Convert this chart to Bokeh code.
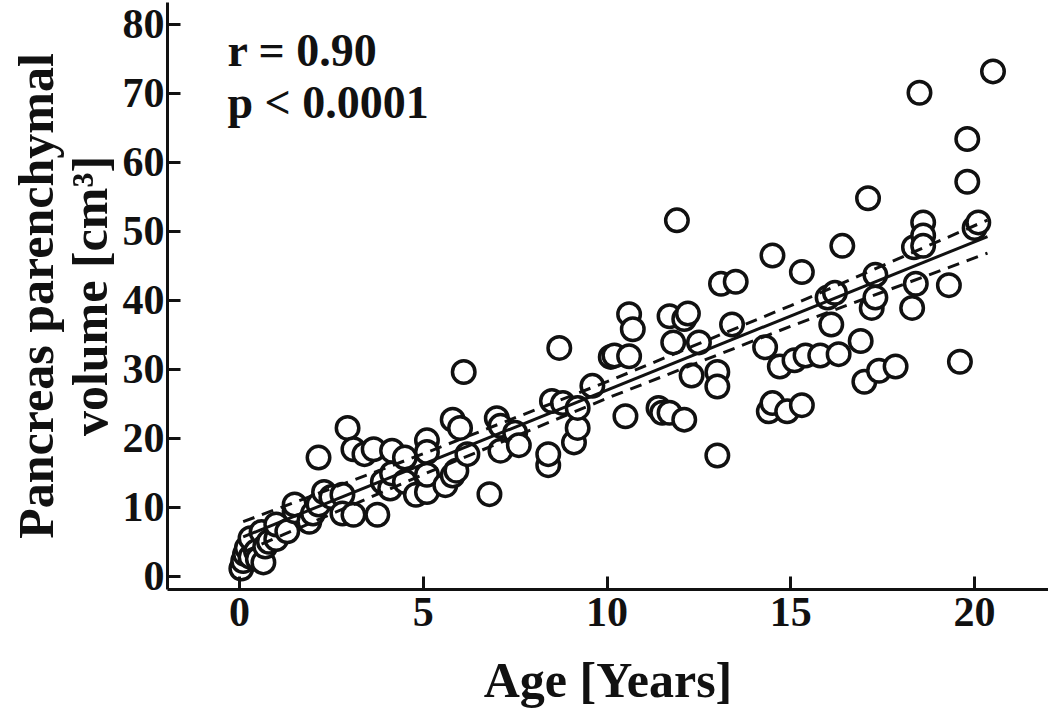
from bokeh.plotting import figure
from bokeh.models import FixedTicker, Label, Range1d
from bokeh.embed import file_html
from bokeh.resources import INLINE

# ---- data ----
age = [0.05, 0.1, 0.15, 0.2, 0.3, 0.3, 0.45, 0.5, 0.6, 0.65, 0.7, 0.8, 1.0, 1.0, 1.3,
       1.5, 1.5, 1.9, 2.0, 2.15, 2.15, 2.3, 2.5, 2.8, 2.8, 2.94, 3.1, 3.1, 3.4, 3.65,
       3.75, 3.9, 4.1, 4.15, 4.15, 4.5, 4.5, 4.8, 5.1, 5.1, 5.1, 5.1, 5.6, 5.8, 5.8,
       6.0, 5.9, 6.1, 6.2, 6.8, 7.0, 7.1, 7.1, 7.5, 7.6, 8.4, 8.4, 8.5, 8.7, 8.8,
       9.1, 9.2, 9.2, 9.6, 10.1, 10.2, 10.5, 10.6, 10.6, 10.7, 11.4, 11.5, 11.7, 11.7, 11.8,
       11.9, 12.1, 12.1, 12.2, 12.3, 12.5, 13.0, 13.0, 13.0, 13.1, 13.5, 13.4, 14.3, 14.4, 14.5,
       14.5, 14.7, 14.9, 15.1, 15.3, 15.3, 15.4, 15.8, 16.0, 16.1, 16.2, 16.3, 16.4, 16.9, 17.0,
       17.1, 17.2, 17.3, 17.3, 17.4, 17.85, 18.3, 18.35, 18.4, 18.5, 18.6, 18.6, 18.6, 19.3, 19.6,
       19.8, 19.8, 20.0, 20.1, 20.5]
volume = [1.1, 2.2, 3.2, 4.1, 2.8, 5.5, 3.6, 2.5, 6.4, 2.0, 4.3, 5.0, 5.4, 7.5, 6.5,
          9.4, 10.4, 7.9, 9.1, 10.4, 17.2, 12.2, 11.5, 11.8, 9.1, 21.5, 8.9, 18.4, 17.7, 18.4,
          8.9, 13.7, 12.7, 14.9, 18.2, 13.7, 17.2, 11.8, 12.2, 14.7, 19.7, 18.0, 13.2, 14.6, 22.7,
          21.5, 15.3, 29.6, 17.7, 11.9, 22.9, 21.8, 18.2, 20.8, 19.0, 16.1, 17.7, 25.4, 33.1, 25.1,
          19.4, 21.5, 24.4, 27.6, 31.8, 32.0, 23.2, 31.9, 38.0, 35.8, 24.4, 23.7, 23.7, 37.7, 33.9,
          51.6, 22.7, 37.3, 38.1, 29.1, 33.9, 29.6, 27.5, 17.5, 42.4, 42.7, 36.5, 33.2, 23.9, 25.1,
          46.5, 30.4, 23.9, 31.3, 44.1, 24.8, 32.0, 32.0, 40.4, 36.5, 41.1, 32.2, 47.9, 34.1, 28.2,
          54.8, 38.9, 40.4, 43.7, 29.8, 30.4, 38.9, 47.7, 42.4, 70.1, 51.3, 49.4, 47.9, 42.2, 31.1,
          63.4, 57.2, 50.5, 51.3, 73.2]

# regression line and its confidence limits
fit_x = [0.1, 20.35]
fit_y = [5.7, 49.25]
ci_x = [0.1, 5.0, 10.0, 15.0, 20.35]
ci_upper = [7.9, 17.75, 28.2, 39.25, 51.65]
ci_lower = [3.5, 14.75, 25.8, 36.25, 46.85]

x_ticks = [0, 5, 10, 15, 20]
y_ticks = [0, 10, 20, 30, 40, 50, 60, 70, 80]

stat_lines = ["r = 0.90", "p < 0.0001"]
x_title = "Age [Years]"
y_title = "Pancreas parenchymal\nvolume [cm\u00b3]"

FONT = "Liberation Serif"
INK = "#111111"

p = figure(width=1048, height=714, output_backend="svg", toolbar_location=None,
           x_range=Range1d(-1.959, 22.01), y_range=Range1d(-1.93, 83.19),
           min_border_left=167, min_border_right=0, min_border_top=2,
           min_border_bottom=125)
p.outline_line_color = None
p.grid.visible = False
p.background_fill_color = "white"

p.scatter(age, volume, marker="circle", size=22.5, fill_color="white",
          line_color=INK, line_width=3.5)
p.line(fit_x, fit_y, line_color=INK, line_width=3)
p.line(ci_x, ci_upper, line_color=INK, line_width=3, line_dash="12 8")
p.line(ci_x, ci_lower, line_color=INK, line_width=3, line_dash="12 8")

for ax in (p.xaxis[0], p.yaxis[0]):
    ax.axis_line_width = 3
    ax.axis_line_color = INK
    ax.major_tick_line_width = 3
    ax.major_tick_line_color = INK
    ax.major_tick_in = 13
    ax.major_tick_out = 0
    ax.minor_tick_line_color = None
    ax.major_label_text_font = FONT
    ax.major_label_text_font_style = "bold"
    ax.major_label_text_font_size = "42px"
    ax.major_label_text_color = INK
    ax.axis_label_text_font = FONT
    ax.axis_label_text_font_style = "bold"
    ax.axis_label_text_color = INK

p.xaxis.ticker = FixedTicker(ticks=x_ticks)
p.yaxis.ticker = FixedTicker(ticks=y_ticks)
p.xaxis.major_label_standoff = 8
p.yaxis.major_label_standoff = 3

p.xaxis.axis_label = x_title
p.xaxis.axis_label_text_font_size = "50px"
p.xaxis.axis_label_standoff = 23

p.yaxis.axis_label = y_title
p.yaxis.axis_label_text_font_size = "50px"
p.yaxis.axis_label_text_line_height = 0.95
p.yaxis.axis_label_standoff = 2

common = dict(text_font=FONT, text_font_style="bold", text_color=INK,
              text_font_size="46px", text_baseline="alphabetic")
p.add_layout(Label(x=-0.33, y=76.2, text=stat_lines[0], **common))
p.add_layout(Label(x=-0.33, y=68.7, text=stat_lines[1], **common))

open("out.html", "w").write(file_html(p, INLINE))
